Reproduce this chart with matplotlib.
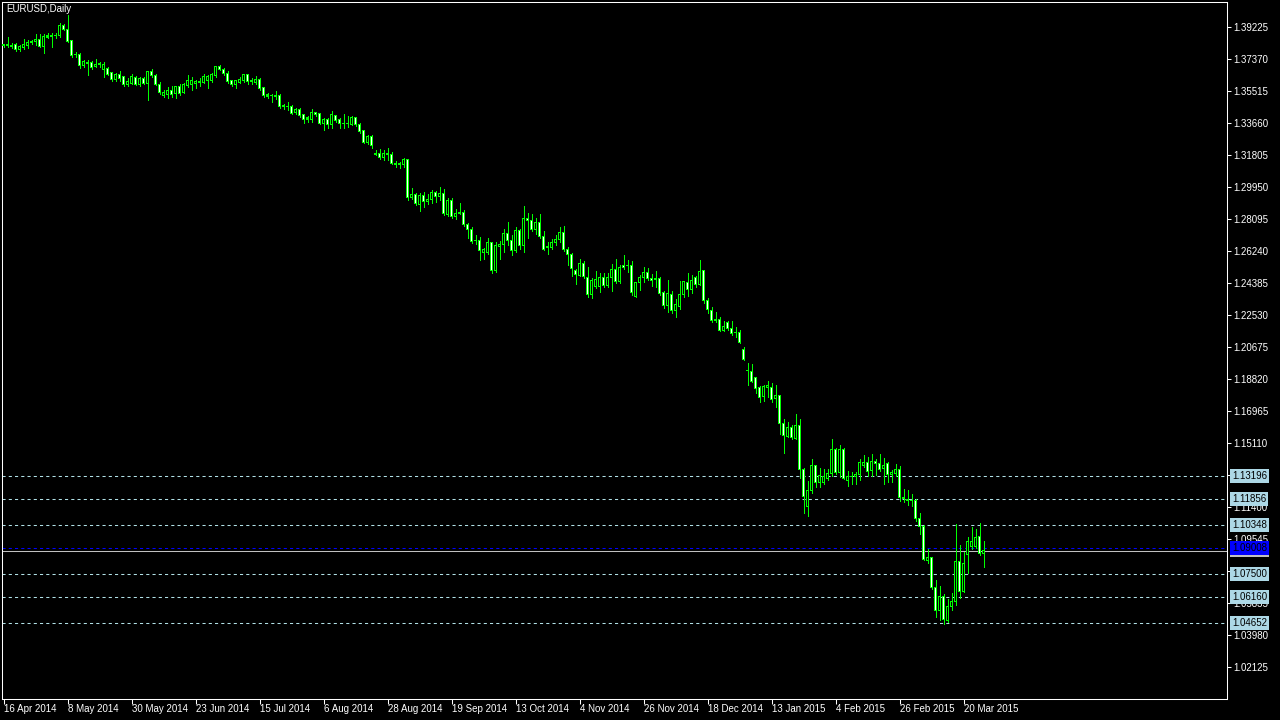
import matplotlib
matplotlib.use("Agg")
import matplotlib.pyplot as plt
from matplotlib.patches import Rectangle

title = "EURUSD,Daily"

opens = [
1.3815,1.3813,1.3809,1.3821,1.3793,1.3803,1.3815,1.3834,1.3838,1.3853,
1.3809,1.3863,1.3869,1.3871,1.3871,1.3931,1.3909,1.3844,1.3764,1.3761,
1.3699,1.3714,1.3716,1.3693,1.3706,1.3679,1.3685,1.3658,1.3621,1.3645,
1.3635,1.3587,1.3598,1.3631,1.3592,1.3625,1.3594,1.3664,1.3643,1.3590,
1.3527,1.3529,1.3552,1.3536,1.3575,1.3544,1.3583,1.3592,1.3594,1.3600,
1.3602,1.3612,1.3612,1.3641,1.3695,1.3679,1.3654,1.3610,1.3587,1.3602,
1.3612,1.3645,1.3606,1.3600,1.3621,1.3571,1.3521,1.3523,1.3519,1.3525,
1.3459,1.3461,1.3463,1.3426,1.3443,1.3413,1.3389,1.3384,1.3428,1.3422,
1.3366,1.3384,1.3358,1.3407,1.3384,1.3362,1.3364,1.3360,1.3397,1.3360,
1.3322,1.3252,1.3285,1.3184,1.3190,1.3165,1.3190,1.3186,1.3126,1.3128,
1.3126,1.3152,1.2935,1.2952,1.2896,1.2943,1.2910,1.2923,1.2964,1.2939,
1.2960,1.2833,1.2914,1.2825,1.2842,1.2848,1.2780,1.2749,1.2684,1.2687,
1.2616,1.2612,1.2670,1.2510,1.2649,1.2662,1.2726,1.2686,1.2626,1.2740,
1.2655,1.2813,1.2803,1.2751,1.2790,1.2709,1.2645,1.2643,1.2672,1.2689,
1.2732,1.2635,1.2604,1.2508,1.2484,1.2552,1.2471,1.2374,1.2417,1.2419,
1.2469,1.2425,1.2469,1.2519,1.2446,1.2541,1.2539,1.2541,1.2361,1.2438,
1.2471,1.2500,1.2465,1.2457,1.2465,1.2380,1.2307,1.2372,1.2276,1.2301,
1.2372,1.2442,1.2403,1.2471,1.2430,1.2508,1.2339,1.2281,1.2221,1.2229,
1.2165,1.2208,1.2175,1.2148,1.2152,1.2055,1.1928,1.1924,1.1887,1.1833,
1.1779,1.1829,1.1829,1.1767,1.1786,1.1624,1.1547,1.1601,1.1537,1.1609,
1.1357,1.1141,1.1233,1.1377,1.1280,1.1282,1.1305,1.1334,1.1473,1.1338,
1.1473,1.1291,1.1313,1.1315,1.1326,1.1382,1.1398,1.1349,1.1404,1.1392,
1.1361,1.1392,1.1326,1.1332,1.1357,1.1189,1.1179,1.1174,1.1174,1.1073,
1.1023,1.0827,1.0847,1.0673,1.0541,1.0622,1.0483,1.0561,1.0590,1.0822,
1.0650,1.0864,1.0909,1.0909,1.0967,1.0870]

highs = [
1.3822,1.3863,1.3828,1.3828,1.3819,1.3852,1.3848,1.3848,1.3882,1.3882,
1.3881,1.3886,1.3886,1.3886,1.3948,1.3940,1.3995,1.3848,1.3776,1.3770,
1.3732,1.3732,1.3726,1.3737,1.3718,1.3722,1.3693,1.3662,1.3654,1.3668,
1.3639,1.3625,1.3648,1.3639,1.3635,1.3635,1.3668,1.3679,1.3650,1.3602,
1.3558,1.3577,1.3581,1.3581,1.3590,1.3596,1.3645,1.3631,1.3616,1.3629,
1.3648,1.3645,1.3654,1.3699,1.3704,1.3687,1.3670,1.3614,1.3614,1.3631,
1.3650,1.3650,1.3629,1.3639,1.3627,1.3577,1.3542,1.3534,1.3552,1.3532,
1.3478,1.3486,1.3471,1.3451,1.3451,1.3420,1.3407,1.3447,1.3432,1.3426,
1.3397,1.3393,1.3436,1.3413,1.3393,1.3418,1.3407,1.3409,1.3403,1.3368,
1.3327,1.3297,1.3297,1.3208,1.3213,1.3210,1.3219,1.3196,1.3146,1.3138,
1.3165,1.3157,1.2991,1.2958,1.2958,1.2964,1.2954,1.2977,1.2974,1.2995,
1.2983,1.2933,1.2929,1.2865,1.2904,1.2860,1.2786,1.2763,1.2716,1.2705,
1.2643,1.2697,1.2678,1.2678,1.2682,1.2749,1.2790,1.2717,1.2765,1.2749,
1.2885,1.2842,1.2836,1.2813,1.2838,1.2740,1.2674,1.2693,1.2717,1.2761,
1.2769,1.2647,1.2612,1.2519,1.2575,1.2566,1.2533,1.2465,1.2506,1.2494,
1.2494,1.2494,1.2546,1.2577,1.2543,1.2601,1.2570,1.2566,1.2442,1.2485,
1.2531,1.2523,1.2490,1.2508,1.2475,1.2392,1.2455,1.2392,1.2345,1.2450,
1.2450,1.2496,1.2484,1.2479,1.2571,1.2513,1.2349,1.2301,1.2270,1.2243,
1.2218,1.2216,1.2218,1.2185,1.2165,1.2065,1.1972,1.1966,1.1895,1.1841,
1.1846,1.1870,1.1856,1.1846,1.1790,1.1649,1.1634,1.1614,1.1678,1.1649,
1.1367,1.1290,1.1415,1.1382,1.1363,1.1359,1.1357,1.1533,1.1483,1.1498,
1.1479,1.1349,1.1344,1.1344,1.1415,1.1440,1.1427,1.1446,1.1415,1.1446,
1.1425,1.1398,1.1353,1.1388,1.1377,1.1241,1.1237,1.1212,1.1183,1.1106,
1.1034,1.0895,1.0851,1.0715,1.0680,1.0632,1.0605,1.0642,1.1040,1.0918,
1.0876,1.0963,1.1025,1.1011,1.1044,1.0940]

lows = [
1.3809,1.3809,1.3803,1.3786,1.3782,1.3795,1.3801,1.3826,1.3819,1.3805,
1.3774,1.3857,1.3809,1.3861,1.3867,1.3906,1.3834,1.3747,1.3747,1.3687,
1.3689,1.3647,1.3679,1.3689,1.3693,1.3635,1.3645,1.3612,1.3612,1.3612,
1.3583,1.3579,1.3592,1.3585,1.3581,1.3592,1.3500,1.3635,1.3585,1.3534,
1.3519,1.3509,1.3519,1.3513,1.3529,1.3538,1.3577,1.3558,1.3571,1.3583,
1.3596,1.3571,1.3606,1.3635,1.3672,1.3645,1.3596,1.3583,1.3571,1.3596,
1.3606,1.3590,1.3594,1.3592,1.3559,1.3519,1.3513,1.3490,1.3505,1.3451,
1.3447,1.3440,1.3418,1.3418,1.3401,1.3364,1.3370,1.3374,1.3409,1.3358,
1.3327,1.3335,1.3339,1.3374,1.3335,1.3339,1.3345,1.3355,1.3349,1.3310,
1.3248,1.3242,1.3219,1.3181,1.3157,1.3152,1.3152,1.3126,1.3111,1.3103,
1.3111,1.2918,1.2925,1.2891,1.2856,1.2881,1.2894,1.2900,1.2910,1.2921,
1.2833,1.2825,1.2817,1.2809,1.2836,1.2771,1.2697,1.2672,1.2662,1.2570,
1.2579,1.2604,1.2498,1.2504,1.2577,1.2620,1.2658,1.2600,1.2620,1.2635,
1.2620,1.2701,1.2740,1.2720,1.2701,1.2630,1.2604,1.2633,1.2659,1.2678,
1.2624,1.2543,1.2481,1.2434,1.2479,1.2465,1.2359,1.2353,1.2407,1.2388,
1.2417,1.2417,1.2392,1.2436,1.2436,1.2519,1.2500,1.2369,1.2357,1.2398,
1.2442,1.2456,1.2423,1.2417,1.2369,1.2295,1.2272,1.2262,1.2243,1.2287,
1.2359,1.2363,1.2382,1.2413,1.2424,1.2320,1.2262,1.2212,1.2212,1.2160,
1.2160,1.2165,1.2136,1.2123,1.2088,1.1991,1.1846,1.1862,1.1798,1.1750,
1.1755,1.1779,1.1750,1.1721,1.1562,1.1454,1.1543,1.1533,1.1531,1.1307,
1.1106,1.1088,1.1218,1.1257,1.1253,1.1272,1.1295,1.1319,1.1330,1.1315,
1.1299,1.1261,1.1270,1.1272,1.1295,1.1373,1.1319,1.1320,1.1326,1.1349,
1.1272,1.1286,1.1286,1.1320,1.1174,1.1168,1.1150,1.1145,1.1059,1.0980,
1.0831,1.0812,1.0661,1.0503,1.0483,1.0458,1.0474,1.0541,1.0570,1.0609,
1.0648,1.0758,1.0895,1.0899,1.0860,1.0793]

closes = [
1.3819,1.3821,1.3817,1.3792,1.3809,1.3821,1.3834,1.3838,1.3853,1.3809,
1.3867,1.3871,1.3873,1.3875,1.3929,1.3909,1.3838,1.3757,1.3761,1.3699,
1.3722,1.3718,1.3689,1.3708,1.3710,1.3703,1.3650,1.3621,1.3645,1.3627,
1.3589,1.3604,1.3635,1.3592,1.3625,1.3598,1.3664,1.3641,1.3590,1.3542,
1.3544,1.3552,1.3532,1.3575,1.3540,1.3587,1.3610,1.3610,1.3606,1.3604,
1.3633,1.3633,1.3648,1.3695,1.3675,1.3652,1.3606,1.3590,1.3610,1.3619,
1.3645,1.3608,1.3614,1.3621,1.3565,1.3525,1.3529,1.3527,1.3527,1.3459,
1.3467,1.3463,1.3424,1.3443,1.3407,1.3389,1.3397,1.3428,1.3418,1.3366,
1.3384,1.3355,1.3413,1.3380,1.3362,1.3366,1.3366,1.3399,1.3355,1.3316,
1.3254,1.3285,1.3235,1.3190,1.3165,1.3190,1.3182,1.3132,1.3130,1.3130,
1.3152,1.2935,1.2952,1.2898,1.2943,1.2910,1.2925,1.2964,1.2939,1.2960,
1.2840,1.2914,1.2823,1.2844,1.2848,1.2778,1.2749,1.2678,1.2686,1.2628,
1.2631,1.2670,1.2510,1.2653,1.2662,1.2726,1.2684,1.2626,1.2740,1.2655,
1.2813,1.2800,1.2751,1.2790,1.2705,1.2635,1.2647,1.2670,1.2693,1.2732,
1.2633,1.2604,1.2523,1.2486,1.2552,1.2473,1.2374,1.2454,1.2459,1.2469,
1.2425,1.2469,1.2519,1.2444,1.2529,1.2527,1.2541,1.2382,1.2438,1.2471,
1.2500,1.2463,1.2450,1.2465,1.2376,1.2307,1.2378,1.2276,1.2314,1.2372,
1.2444,1.2403,1.2453,1.2430,1.2506,1.2336,1.2285,1.2218,1.2227,1.2165,
1.2187,1.2173,1.2144,1.2152,1.2092,1.1995,1.1931,1.1868,1.1827,1.1775,
1.1839,1.1844,1.1765,1.1786,1.1624,1.1552,1.1601,1.1541,1.1609,1.1357,
1.1199,1.1237,1.1377,1.1280,1.1319,1.1313,1.1334,1.1473,1.1338,1.1473,
1.1305,1.1315,1.1315,1.1330,1.1398,1.1398,1.1346,1.1402,1.1392,1.1359,
1.1377,1.1326,1.1338,1.1357,1.1195,1.1193,1.1181,1.1179,1.1071,1.1028,
1.0835,1.0847,1.0673,1.0541,1.0619,1.0489,1.0561,1.0590,1.0822,1.0650,
1.0810,1.0940,1.0940,1.0963,1.0870,1.0885]

date_labels = ["16 Apr 2014", "8 May 2014", "30 May 2014", "23 Jun 2014",
               "15 Jul 2014", "6 Aug 2014", "28 Aug 2014", "19 Sep 2014",
               "13 Oct 2014", "4 Nov 2014", "26 Nov 2014", "18 Dec 2014",
               "13 Jan 2015", "4 Feb 2015", "26 Feb 2015", "20 Mar 2015"]
date_label_bars = [0, 16, 32, 48, 64, 80, 96, 112, 128, 144, 160, 176,
                   192, 208, 224, 240]

price_ticks = [1.39225, 1.37370, 1.35515, 1.33660, 1.31805, 1.29950,
               1.28095, 1.26240, 1.24385, 1.22530, 1.20675, 1.18820,
               1.16965, 1.15110, 1.13255, 1.11400, 1.09545, 1.07690,
               1.05835, 1.03980, 1.02125]

level_lines = [1.13196, 1.11856, 1.10348, 1.07500, 1.06160, 1.04652]
blue_level = 1.09008

GREEN = "#00FF00"
LEVEL = "#B0E0E6"
plt.rcParams["font.family"] = ["Liberation Sans", "DejaVu Sans"]
FS = 7

W, H = 1280, 720
fig = plt.figure(figsize=(12.8, 7.2), dpi=100, facecolor="black")


def px_rect(x0, y0, x1, y1):
    return [x0 / W, 1 - y1 / H, (x1 - x0) / W, (y1 - y0) / H]


AX_L, AX_T, AX_R, AX_B = 2, 2, 1227, 699
ax = fig.add_axes(px_rect(AX_L, AX_T, AX_R, AX_B))
ax.set_facecolor("black")
XMIN = -0.375
ax.set_xlim(XMIN, XMIN + (AX_R - AX_L) / 4.0)
YLO, YHI = 1.00250, 1.40679
ax.set_ylim(YLO, YHI)
ypx = (YHI - YLO) / (AX_B - AX_T)   # price per pixel

for s in ax.spines.values():
    s.set_color("white")
    s.set_linewidth(0.75)

# candles: 3 px body (green outline, 1 px fill), 1 px wicks
n = len(opens)
for i in range(n):
    o, h, l, c = opens[i], highs[i], lows[i], closes[i]
    ax.vlines(i, l, h, color=GREEN, linewidth=0.72, antialiased=False, zorder=3)
    bottom = min(o, c)
    top = max(o, c)
    ax.add_patch(Rectangle((i - 0.36, bottom - 0.5 * ypx), 0.72,
                           (top - bottom) + ypx, facecolor=GREEN,
                           edgecolor="none", linewidth=0, antialiased=False,
                           zorder=4))
    if top - bottom > 1.5 * ypx:
        face = "white" if c < o else "black"
        ax.add_patch(Rectangle((i - 0.2, bottom + 0.5 * ypx), 0.4,
                               (top - bottom) - ypx, facecolor=face,
                               edgecolor="none", linewidth=0,
                               antialiased=False, zorder=5))

# horizontal level lines
for lv in level_lines:
    ax.axhline(lv, color=LEVEL, linewidth=0.75, dashes=(3, 3), zorder=2)
ax.axhline(closes[-1], color="#C0C0C0", linewidth=0.75, zorder=2)
ax.axhline(blue_level, color="#0000FF", linewidth=0.75, dashes=(3, 3), zorder=2)

# right price axis
ax.yaxis.tick_right()
ax.set_yticks(price_ticks)
ax.set_yticklabels([f"{p:.5f}" for p in price_ticks])
ax.tick_params(axis="y", colors="white", labelcolor="white", length=3,
               width=0.75, pad=1.5, labelsize=FS)

# bottom time axis
ax.set_xticks(date_label_bars)
ax.set_xticklabels([])
ax.tick_params(axis="x", colors="white", length=3.6, width=0.75)
for b, lab in zip(date_label_bars, date_labels):
    ax.annotate(lab, xy=(b, 0), xycoords=("data", "axes fraction"),
                xytext=(0.5, -9.5), textcoords="offset pixels",
                ha="left", va="center", color="white", fontsize=FS,
                annotation_clip=False)


# level labels on price axis
def level_label(value, fc, z):
    ax.annotate(f"{value:.5f}", xy=(1, value), xycoords=("axes fraction", "data"),
                xytext=(5, 0), textcoords="offset pixels", ha="left", va="center",
                color="black", fontsize=FS, zorder=z, annotation_clip=False,
                bbox=dict(boxstyle="square,pad=0.18", fc=fc, ec="none"))


for lv in level_lines:
    level_label(lv, "#ADD8E6", 10)
level_label(closes[-1], "#C0C0C0", 10)
level_label(blue_level, "#0000FF", 11)

fig.text(6 / W, 1 - 9 / H, title, color="white", fontsize=FS,
         ha="left", va="center")

fig.savefig("out.png", dpi=100, facecolor="black")
